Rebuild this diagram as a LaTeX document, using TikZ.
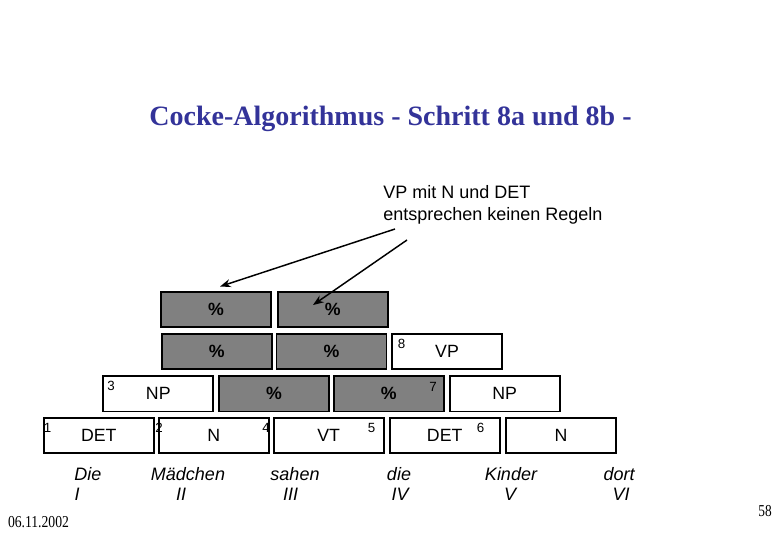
\documentclass[tikz,border=0pt]{standalone}
\usepackage{fontspec}
\setmainfont{Liberation Serif}
\setsansfont{Liberation Sans}
\usetikzlibrary{arrows.meta}
\definecolor{titleblue}{HTML}{333399}
\definecolor{cellgrey}{HTML}{808080}
\tikzset{
  cell/.style={draw=black, line width=1.4pt, minimum width=82.5pt, minimum height=26.5pt, inner sep=0pt, font=\sffamily\fontsize{13.3}{15}\selectfont},
  empty/.style={cell, fill=cellgrey, font=\sffamily\bfseries\fontsize{13.3}{15}\selectfont},
  full/.style={cell, fill=white},
  idx/.style={inner sep=0pt, font=\sffamily\fontsize{10}{11}\selectfont},
  word/.style={inner sep=0pt, font=\sffamily\itshape\fontsize{13.5}{15}\selectfont},
  pointer/.style={line width=1.1pt, -{Stealth[length=8pt,width=6pt]}}
}
\begin{document}
\begin{tikzpicture}[x=0.75pt,y=-0.75pt]
\useasboundingbox (0,0) rectangle (780,540);
% title
\node[inner sep=0pt, text=titleblue, font=\bfseries\fontsize{21}{25}\selectfont] (title) at (390.5,119) {Cocke-Algorithmus - Schritt 8a und 8b -};
% annotation
\node[inner sep=0pt, anchor=north west, align=left, font=\sffamily\fontsize{13.5}{16.5}\selectfont] (note) at (383,185) {VP mit N und DET\\entsprechen keinen Regeln};
% row 4
\node[full] (r4a) at (98.8,435.3) {DET};
\node[full] (r4b) at (213.8,435.3) {N};
\node[full] (r4c) at (328.7,435.3) {VT};
\node[full] (r4d) at (444.7,435.3) {DET};
\node[full] (r4e) at (561,435.3) {N};
% row 3
\node[full] (r3a) at (158.3,393.8) {NP};
\node[empty] (r3b) at (274,393.8) {\%};
\node[empty] (r3c) at (388.8,393.8) {\%};
\node[full] (r3d) at (504.7,393.8) {NP};
% row 2
\node[empty] (r2a) at (216.8,351.7) {\%};
\node[empty] (r2b) at (331.5,351.7) {\%};
\node[full] (r2c) at (447,351.7) {VP};
% row 1
\node[empty] (r1a) at (216,309.5) {\%};
\node[empty] (r1b) at (332.8,309.5) {\%};
% indices
\node[idx] (n1) at (47.5,427.5) {1};
\node[idx] (n2) at (159,427.5) {2};
\node[idx] (n4) at (266,427.5) {4};
\node[idx] (n5) at (371.5,427.5) {5};
\node[idx] (n6) at (480.5,427.5) {6};
\node[idx] (n3) at (111,386) {3};
\node[idx] (n7) at (433,386.5) {7};
\node[idx] (n8) at (401.5,344) {8};
% arrows
\coordinate (s1) at (395,229);
\coordinate (e1) at (220,286.5);
\coordinate (s2) at (407,240);
\coordinate (e2) at (313,305);
\draw[pointer] (s1) -- (e1);
\draw[pointer] (s2) -- (e2);
% words
\node[word] (w1) at (88,474) {Die};
\node[word] (w1n) at (77,494) {I};
\node[word] (w2) at (188,474) {Mädchen};
\node[word] (w2n) at (181,494) {II};
\node[word] (w3) at (295,474) {sahen};
\node[word] (w3n) at (290.5,494) {III};
\node[word] (w4) at (399,474) {die};
\node[word] (w4n) at (400,494) {IV};
\node[word] (w5) at (511,474) {Kinder};
\node[word] (w5n) at (510,494) {V};
\node[word] (w6) at (619,474) {dort};
\node[word] (w6n) at (621,494) {VI};
% footer
\node[inner sep=0pt, xscale=0.82, font=\fontsize{12.5}{14}\selectfont] (date) at (38.5,522) {06.11.2002};
\node[inner sep=0pt, xscale=0.8, font=\fontsize{12.5}{14}\selectfont] (page) at (765,511) {58};
\end{tikzpicture}
\end{document}
